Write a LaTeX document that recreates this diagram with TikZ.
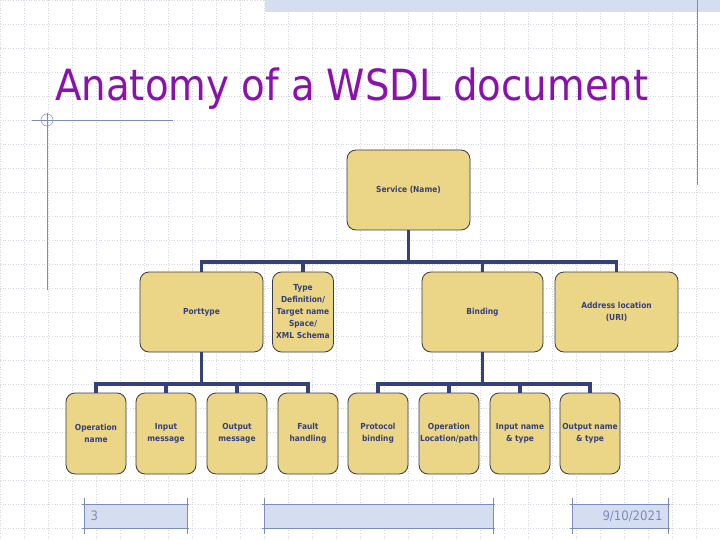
\documentclass[tikz,border=0pt]{standalone}
\usepackage{fontspec}
\setmainfont{DejaVu Sans}
\newfontfamily\condf{DejaVu Sans Condensed}
\usetikzlibrary{patterns}
\definecolor{boxfill}{HTML}{EBD587}
\definecolor{boxline}{HTML}{3A3A4A}
\definecolor{navy}{HTML}{36417A}
\definecolor{gridc}{HTML}{D4D8E0}
\definecolor{frame}{HTML}{7C8CB8}
\definecolor{band}{HTML}{D5DEF0}
\definecolor{titlec}{HTML}{8A10B0}
\tikzset{
 bx/.style={draw=boxline,fill=boxfill,rounded corners=9pt,line width=0.8pt,
   font=\condf\bfseries\fontsize{8.3}{12}\selectfont,text=navy,align=center,inner sep=0pt},
 conn/.style={draw=navy,line width=3.2pt},
}
\begin{document}
\begin{tikzpicture}[x=1pt,y=-1pt]
\useasboundingbox (0,0) rectangle (720,540);
\fill[white] (0,0) rectangle (720,540);
\foreach \g in {0,24,...,720} \draw[gridc,dotted,line width=0.6pt] (\g,0)--(\g,540);
\foreach \g in {0,24,...,540} \draw[gridc,dotted,line width=0.6pt] (0,\g)--(720,\g);
% decorations
\fill[band] (265,0) rectangle (720,12);
\draw[frame,line width=0.7pt] (697,0)--(697,185);
\draw[frame,line width=0.7pt] (47,113)--(47,290);
\draw[frame,line width=0.7pt] (32,120)--(173,120);
\draw[frame,line width=0.5pt] (47,120) circle (6);
\foreach \a/\b in {84/187,264/493,572/668}{
 \fill[band] (\a,504) rectangle (\b,528);
 \draw[frame,line width=0.7pt] (\a-2,504)--(\b+2,504) (\a-2,528)--(\b+2,528) (\a,498)--(\a,534) (\b,498)--(\b,534);
}
\node[font=\condf\fontsize{13}{15}\selectfont,text=frame,anchor=west] (pg) at (87,516) {3};
\node[font=\condf\fontsize{13}{15}\selectfont,text=frame,anchor=east] (dt) at (666,516) {9/10/2021};
% title
\node[font=\condf\fontsize{43}{48}\selectfont,text=titlec,anchor=base west,inner sep=0pt] (title) at (55,101) {Anatomy of a WSDL document};
% boxes
\node[bx,minimum width=123,minimum height=80] (svc) at (408.5,190) {Service (Name)};
\node[bx,minimum width=123,minimum height=80] (pt) at (201.5,312) {Porttype};
\node[bx,minimum width=61,minimum height=80] (td) at (303,312) {Type\\Definition/\\Target name\\Space/\\XML Schema};
\node[bx,minimum width=121,minimum height=80] (bd) at (482.5,312) {Binding};
\node[bx,minimum width=123,minimum height=80] (ad) at (616.5,312) {Address location\\(URI)};
\foreach \n/\c/\t in {on/96/{Operation\\name},im/166/{Input\\message},om/237/{Output\\message},fh/308/{Fault\\handling},pb/378/{Protocol\\binding},ol/449/{Operation\\Location/path},in/520/{Input name\\\& type},on2/590/{Output name\\\& type}}
 \node[bx,minimum width=60,minimum height=81] (\n) at (\c,433.5) {\t};
% connectors
\coordinate (b1) at (0,262);
\draw[conn] (svc.south) -- (svc.south |- b1);
\draw[conn] (pt.north) |- (b1 -| svc.south) (ad.north) |- (b1 -| svc.south);
\draw[conn] (td.north) -- (td.north |- b1) (bd.north) -- (bd.north |- b1);
\coordinate (b2) at (0,384);
\draw[conn] (pt.south) -- (pt.south |- b2);
\draw[conn] (on.north) |- (b2 -| pt.south) (fh.north) |- (b2 -| pt.south);
\draw[conn] (im.north) -- (im.north |- b2) (om.north) -- (om.north |- b2);
\draw[conn] (bd.south) -- (bd.south |- b2);
\draw[conn] (pb.north) |- (b2 -| bd.south) (on2.north) |- (b2 -| bd.south);
\draw[conn] (ol.north) -- (ol.north |- b2) (in.north) -- (in.north |- b2);
\end{tikzpicture}
\end{document}
